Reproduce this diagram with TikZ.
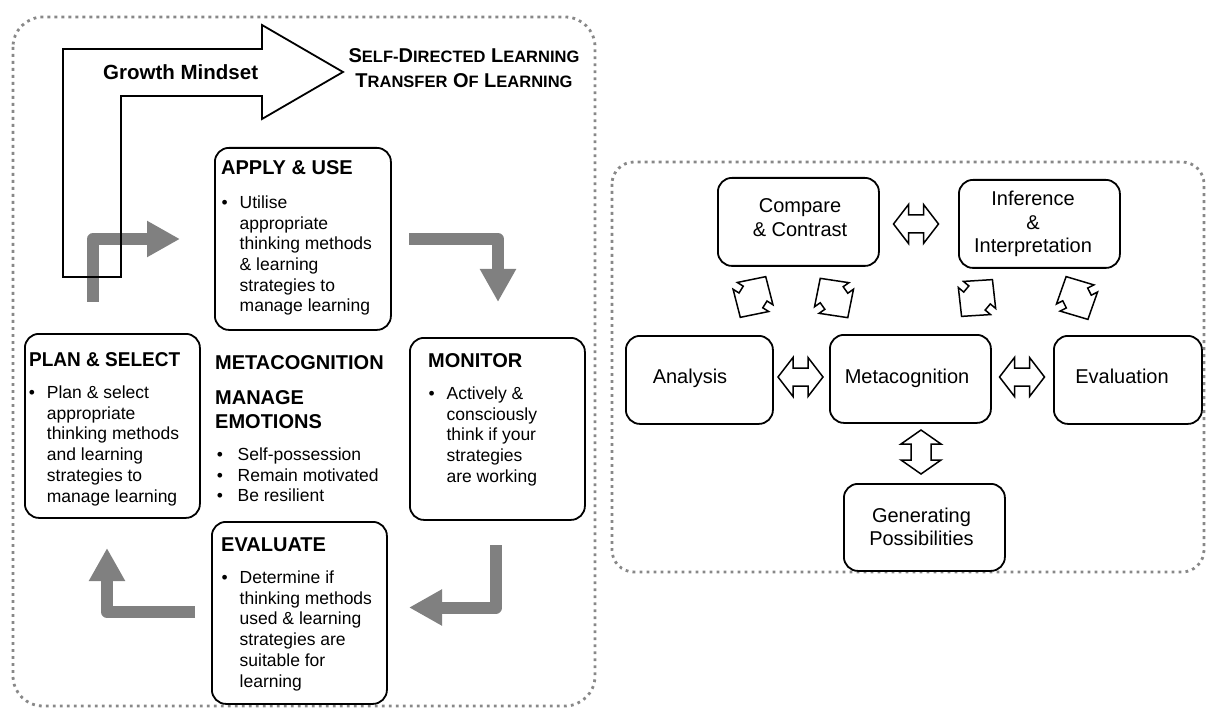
\documentclass[tikz,border=0pt]{standalone}
\usepackage{fontspec}
\usepackage{graphicx}
\setmainfont{Liberation Sans}
\usetikzlibrary{arrows.meta,calc}

\definecolor{dotgray}{HTML}{888888}
\definecolor{bargray}{HTML}{808080}

\newcommand{\fsz}[2]{\fontsize{#1}{#2}\selectfont}
\newcommand{\bitem}[1][18pt]{\makebox[#1][l]{\textbullet}}
\newcommand{\bindent}[1][18pt]{\hspace*{#1}}
\newcommand{\capsA}[1]{{\fsz{20}{25}#1}}
\newcommand{\capsB}[1]{{\fsz{16.5}{25}#1}}

\tikzset{
  panel/.style={draw=dotgray, line width=2.8pt, dash pattern=on 2.8pt off 4.2pt},
  stepbox/.style={draw, line width=1.8pt, rounded corners=14pt, anchor=north west, inner sep=0pt},
  grayarrow/.style={draw=bargray, line width=12pt, line join=round, -{Triangle[length=33pt,width=34pt]}},
  outlinearrow/.style={draw, line width=1.8pt, line join=miter},
  blockarrow/.style={draw, line width=1.5pt, fill=white, line join=miter},
  ttl/.style={font=\bfseries\fsz{20}{24}, inner sep=0pt, anchor=base west},
  body/.style={font=\fsz{17.5}{20.7}, inner sep=0pt, anchor=base west},
  rtext/.style={font=\fsz{20}{23.5}, inner sep=0pt, anchor=base},
  pics/dblarrow/.style args={#1/#2/#3/#4}{code={
    \draw[blockarrow] (-#1,0) -- (-#1+#2,#3) -- (-#1+#2,#4) -- (#1-#2,#4)
      -- (#1-#2,#3) -- (#1,0) -- (#1-#2,-#3) -- (#1-#2,-#4)
      -- (-#1+#2,-#4) -- (-#1+#2,-#3) -- cycle;
  }}
}

\begin{document}
\begin{tikzpicture}[x=1pt, y=-1pt]
\useasboundingbox (0,0) rectangle (1206,708);

% dotted frames
\draw[panel, rounded corners=30pt] (13,17) rectangle (595,706);
\draw[panel, rounded corners=22pt] (612,162) rectangle (1204,572);

% grey cycle arrows
\coordinate (g1s) at (93,302);   \coordinate (g1t) at (180,239);
\coordinate (g2s) at (409,239);  \coordinate (g2t) at (498,302);
\coordinate (g3s) at (496,545);  \coordinate (g3t) at (409,607.5);
\coordinate (g4s) at (195,612);  \coordinate (g4t) at (107,548);
\draw[grayarrow] (g1s) |- (g1t);
\draw[grayarrow] (g2s) -| (g2t);
\draw[grayarrow] (g3s) |- (g3t);
\draw[grayarrow] (g4s) -| (g4t);

% big bent outline arrow
\draw[outlinearrow] (63,277) -- (63,49) -- (262,49) -- (262,25) -- (343,72)
  -- (262,119) -- (262,96) -- (121,96) -- (121,277) -- cycle;
\node[ttl, font=\bfseries\fsz{20.5}{24}] (growth) at (103,80) {Growth Mindset};
\node[inner sep=0pt, anchor=base, font=\bfseries\fsz{20}{25}] (sdl) at (464,63)
  {\parbox[t]{270pt}{\centering
   \capsA{S}\capsB{ELF-}\capsA{D}\capsB{IRECTED} \capsA{L}\capsB{EARNING}\\
   \capsA{T}\capsB{RANSFER} \capsA{O}\capsB{F} \capsA{L}\capsB{EARNING}}};

% stage boxes
\node[stepbox, minimum width=176pt, minimum height=182pt] (apply) at (214,147) {};
\node[stepbox, minimum width=175pt, minimum height=184pt] (plan) at (24,333) {};
\node[stepbox, minimum width=175pt, minimum height=182pt] (monitor) at (409,337) {};
\node[stepbox, minimum width=175pt, minimum height=182pt] (evaluate) at (211,521) {};

% APPLY & USE
\node[ttl] (applyT) at (221,175) {APPLY \& USE};
\node[body] (applyB) at (221.5,208.5) {\parbox[t]{165pt}{%
  \bitem Utilise\\
  \bindent appropriate\\
  \bindent thinking methods\\
  \bindent \& learning\\
  \bindent strategies to\\
  \bindent manage learning}};

% PLAN & SELECT
\node[ttl] (planT) at (29,366) {\scalebox{0.95}[1]{PLAN \& SELECT}};
\node[body] (planB) at (28.7,398.5) {\parbox[t]{165pt}{%
  \bitem Plan \& select\\
  \bindent appropriate\\
  \bindent thinking methods\\
  \bindent and learning\\
  \bindent strategies to\\
  \bindent manage learning}};

% centre: metacognition and emotions
\node[ttl] (metaT) at (215,369) {METACOGNITION};
\node[ttl] (emoT) at (215,404) {\parbox[t]{170pt}{MANAGE\\EMOTIONS}};
\node[body] (emoB) at (216.6,460.5) {\parbox[t]{175pt}{%
  \bitem[16pt] Self-possession\\
  \bitem[16pt] Remain motivated\\
  \bitem[16pt] Be resilient}};

% MONITOR
\node[ttl] (monT) at (428,367) {MONITOR};
\node[body] (monB) at (428.4,399.5) {\parbox[t]{165pt}{%
  \bitem Actively \&\\
  \bindent consciously\\
  \bindent think if your\\
  \bindent strategies\\
  \bindent are working}};

% EVALUATE
\node[ttl] (evalT) at (221,551) {EVALUATE};
\node[body] (evalB) at (221.5,583.5) {\parbox[t]{165pt}{%
  \bitem Determine if\\
  \bindent thinking methods\\
  \bindent used \& learning\\
  \bindent strategies are\\
  \bindent suitable for\\
  \bindent learning}};

% thinking skills around metacognition
\node[stepbox, minimum width=161pt, minimum height=88pt] (compare) at (717,177) {};
\node[stepbox, minimum width=161pt, minimum height=88pt] (inference) at (958,179) {};
\node[stepbox, minimum width=147pt, minimum height=88pt] (analysis) at (625,335) {};
\node[stepbox, minimum width=161pt, minimum height=88pt] (meta) at (829,334) {};
\node[stepbox, minimum width=148pt, minimum height=88pt] (evaluation) at (1053,335) {};
\node[stepbox, minimum width=161pt, minimum height=87pt] (generating) at (843,483) {};

\node[rtext] (compareT) at (800,213) {\parbox[t]{150pt}{\centering Compare\\\& Contrast}};
\node[rtext] (inferenceT) at (1033,206) {\parbox[t]{150pt}{\centering Inference\\\&\\Interpretation}};
\node[rtext] (analysisT) at (690,383) {Analysis};
\node[rtext] (metaTx) at (907,383) {Metacognition};
\node[rtext] (evaluationT) at (1122,383) {Evaluation};
\node[rtext] (generatingT) at (921.5,522) {\parbox[t]{150pt}{\centering Generating\\Possibilities}};

% two-way block arrows
\coordinate (am) at (800.5,377);
\coordinate (me) at (1022,377);
\coordinate (ci) at (916,224);
\coordinate (mg) at (921,452);
\coordinate (ac) at (753,297);
\coordinate (cm) at (834,298);
\coordinate (mi) at (977,298);
\coordinate (ie) at (1077,298);
\pic at (am) {dblarrow=22.5/15/19.5/9};
\pic at (me) {dblarrow=22.5/15/19.5/9};
\pic at (ci) {dblarrow=22.5/15/19.5/9};
\pic[rotate=90] at (mg) {dblarrow=22/14/20/10};
\pic[rotate=58] at (ac) {dblarrow=24/20/21/14};
\pic[rotate=-55] at (cm) {dblarrow=24/20/21/14};
\pic[rotate=50] at (mi) {dblarrow=24/20/21/14};
\pic[rotate=-63] at (ie) {dblarrow=24/20/21/14};
\end{tikzpicture}
\end{document}
